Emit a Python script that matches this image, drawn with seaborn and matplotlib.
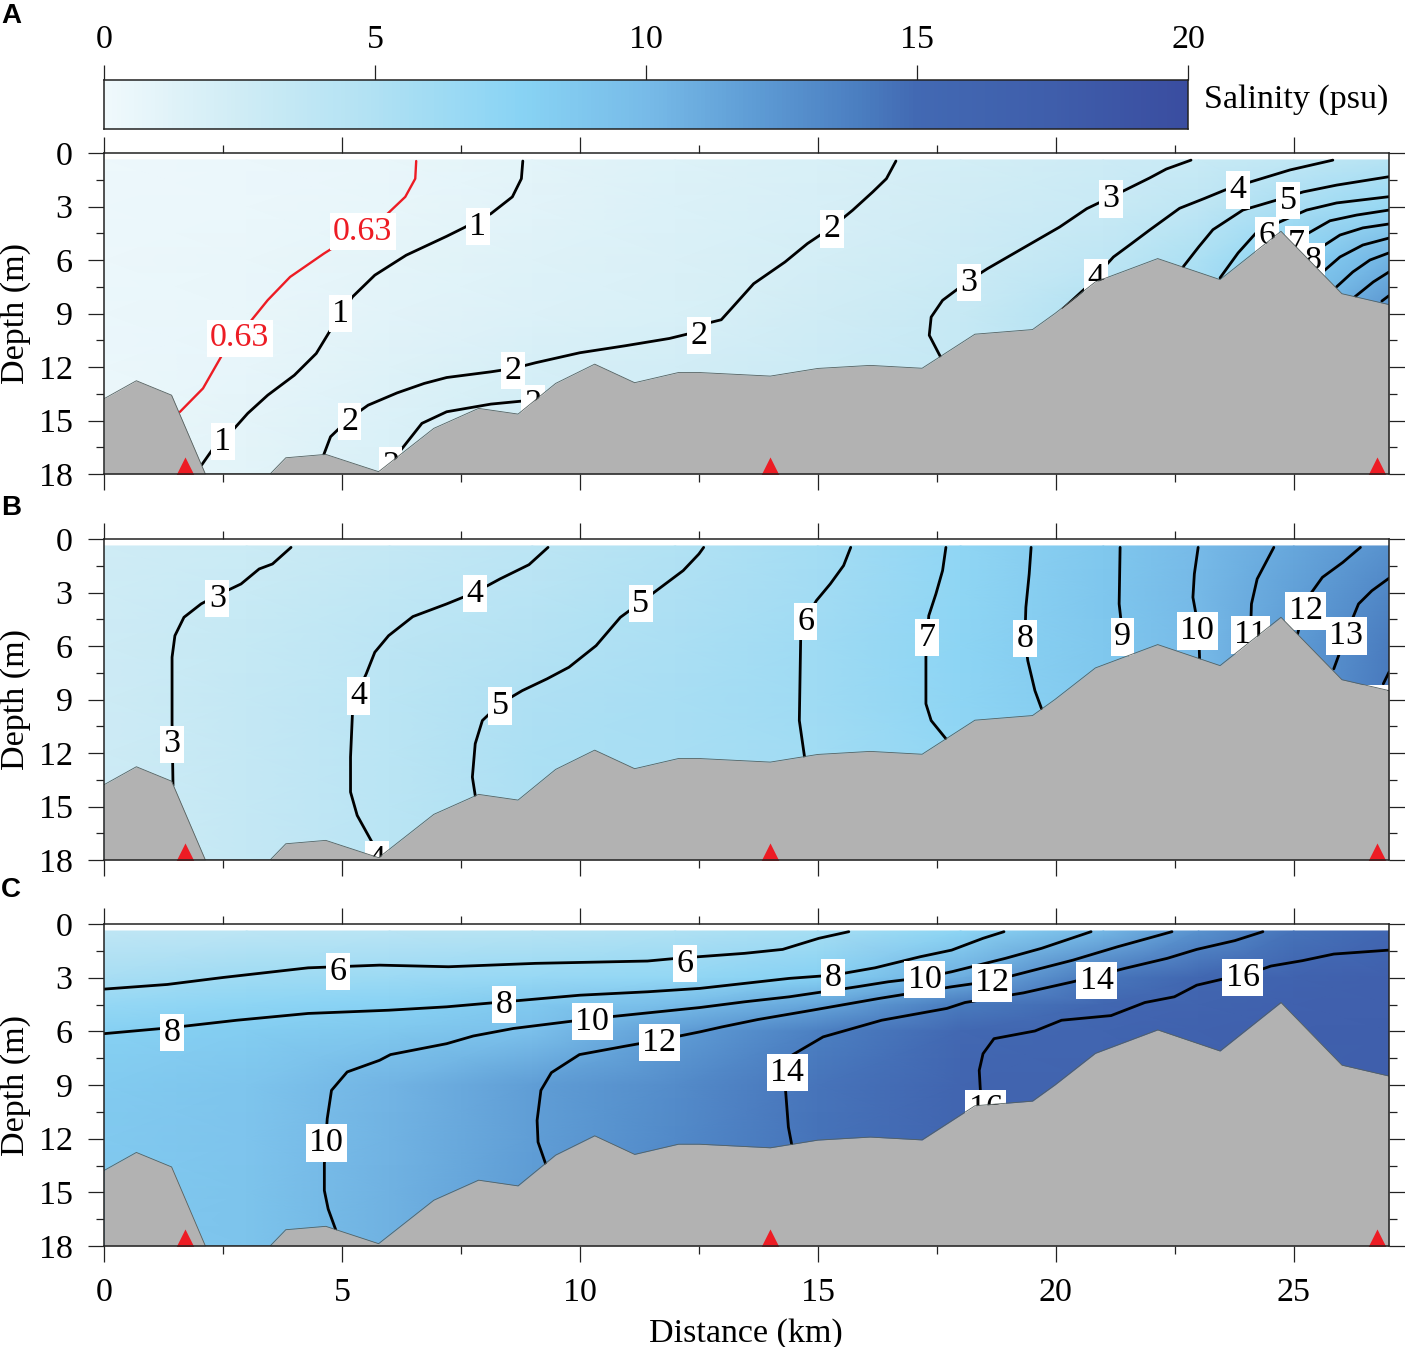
import numpy as np
import pandas as pd
import matplotlib
matplotlib.use('Agg')
import matplotlib.pyplot as plt
from matplotlib.colors import LinearSegmentedColormap
from matplotlib.ticker import MultipleLocator
import seaborn as sns

sns.set_theme(style='ticks', rc={'axes.edgecolor': '#222222', 'text.color': 'black',
                                 'xtick.color': '#222222', 'ytick.color': '#222222',
                                 'xtick.labelcolor': 'black', 'ytick.labelcolor': 'black',
                                 'axes.labelcolor': 'black'})
plt.rcParams['font.family'] = ['Liberation Serif', 'DejaVu Serif']

# seabed profile and stations
bed_km = [0, 0.68, 1.42, 2.13, 3.49, 3.82, 4.66, 5.77, 6.93, 7.87, 8.70, 9.49, 10.31, 11.15, 12.07, 12.51,
          14.0, 15.0, 16.1, 17.19, 18.3, 19.51, 19.98, 20.83, 22.14, 23.45, 24.73, 26.01, 27.0]
bed_d = [13.78, 12.77, 13.58, 18, 18, 17.09, 16.9, 17.87, 15.44, 14.32, 14.64, 12.92, 11.84, 12.88, 12.31, 12.31,
         12.51, 12.08, 11.91, 12.07, 10.16, 9.9, 9.0, 7.23, 5.92, 7.1, 4.39, 7.89, 8.5]
station_km = [1.7, 14.0, 26.75]

# salinity read on a coarse grid
field_km = [0, 3, 6, 9, 12, 15, 18, 21, 23, 25, 27]
field_d = [0.39, 3, 6, 9, 12, 15, 18]
field_d_c = [0.39, 3, 4.5, 6, 9, 12, 15, 18]
field_a = [[.30, .42, .60, 1.03, 1.45, 1.80, 2.20, 2.70, 3.05, 3.70, 4.60],
           [.35, .45, .64, 1.10, 1.60, 1.90, 2.45, 3.00, 3.75, 5.50, 6.70],
           [.38, .55, .97, 1.35, 1.70, 2.15, 2.75, 3.80, 5.30, 7.60, 10.5],
           [.40, .62, 1.15, 1.50, 1.85, 2.45, 3.20, 5.00, 6.00, 9.00, 12.5],
           [.45, .75, 1.35, 2.00, 2.30, 2.80, 3.40, 5.00, 7.00, 10.0, 13.0],
           [.50, .95, 1.60, 2.40, 2.50, 2.80, 3.40, 5.00, 7.00, 10.0, 13.0],
           [.50, 1.05, 1.80, 2.40, 2.50, 2.80, 3.40, 5.00, 7.00, 10.0, 13.0]]
field_b = [[2.5, 2.85, 3.4, 4.0, 4.85, 5.8, 7.15, 8.8, 10.0, 11.3, 12.6],
           [2.6, 3.1, 3.7, 4.3, 5.15, 5.9, 7.25, 8.85, 10.1, 11.7, 13.4],
           [2.7, 3.35, 4.05, 4.75, 5.35, 6.15, 7.35, 8.8, 10.0, 12.0, 14.0],
           [2.7, 3.4, 4.2, 5.15, 5.55, 6.1, 7.3, 8.7, 10.0, 12.0, 14.2],
           [2.7, 3.4, 4.2, 5.25, 5.6, 6.05, 7.1, 8.5, 10.0, 12.0, 14.2],
           [2.7, 3.4, 4.15, 5.2, 5.6, 6.0, 7.0, 8.5, 10.0, 12.0, 14.2],
           [2.7, 3.4, 4.15, 5.2, 5.6, 6.0, 7.0, 8.5, 10.0, 12.0, 14.2]]
field_c = [[3.8, 4.0, 4.3, 4.6, 5.0, 5.7, 7.4, 10.3, 12.6, 14.5, 15.4],
           [5.6, 6.15, 6.4, 6.7, 7.0, 7.9, 10.8, 14.3, 15.5, 16.4, 16.9],
           [6.8, 7.35, 7.75, 8.6, 9.8, 11.4, 14.1, 15.5, 16.2, 16.7, 17.0],
           [7.9, 8.3, 8.8, 9.5, 11.9, 13.8, 15.2, 16.0, 16.5, 16.9, 17.2],
           [8.5, 9.0, 10.4, 11.8, 13.0, 14.4, 15.8, 16.2, 16.6, 17.0, 17.2],
           [8.6, 9.1, 10.5, 11.8, 13.2, 14.5, 16.0, 16.2, 16.6, 17.0, 17.2],
           [8.6, 9.2, 10.6, 12.0, 13.2, 14.6, 16.0, 16.2, 16.6, 17.0, 17.2],
           [8.6, 9.2, 10.6, 12.0, 13.2, 14.6, 16.0, 16.2, 16.6, 17.0, 17.2]]

# contour lines, (km, depth)
a_063 = [(6.56, .45), (6.54, 1.44), (6.33, 2.46), (5.96, 3.4), (5.3, 4.5), (4.62, 5.64), (3.91, 6.95), (3.44, 8.25),
         (3.07, 9.47), (2.5, 11.24), (2.08, 13.2), (1.59, 14.53)]
a_1 = [(8.8, .45), (8.77, 1.44), (8.58, 2.46), (8.13, 3.4), (7.57, 4.18), (7.2, 4.67), (6.35, 5.73), (5.69, 6.85),
       (5.22, 8.07), (4.8, 9.75), (4.46, 11.24), (4.0, 12.46), (3.44, 13.58), (3.02, 14.6), (2.74, 15.44),
       (2.32, 16.47), (2.05, 17.5)]
a_2 = [(4.62, 16.9), (4.76, 15.91), (5.16, 14.88), (5.55, 14.14), (6.16, 13.45), (6.73, 12.92), (7.2, 12.59),
       (8.13, 12.27), (8.6, 12.08), (9.07, 11.76), (10.0, 11.2), (10.95, 10.81), (11.88, 10.4), (12.31, 10.12),
       (12.7, 9.53), (12.97, 9.35), (13.18, 8.73), (13.65, 7.33), (14.31, 6.11), (14.78, 5.08), (15.3, 4.15),
       (15.73, 3.21), (16.15, 2.19), (16.44, 1.44), (16.64, .45)]
a_2b = [(6.21, 16.75), (6.68, 15.16), (7.2, 14.51), (8.13, 14.08), (8.79, 13.91)]
a_3 = [(17.57, 11.4), (17.34, 10.22), (17.38, 9.2), (17.62, 8.26), (18.18, 7.14), (18.56, 6.49), (20.08, 4.15),
       (20.65, 3.12), (21.16, 2.47), (21.97, 1.4), (22.32, .9), (22.84, .4)]
a_4 = [(20.15, 8.73), (20.65, 7.51), (20.83, 6.95), (21.21, 5.83), (21.59, 5.08), (21.97, 4.32), (22.6, 3.1),
       (23.13, 2.54), (23.55, 2.08), (24.08, 1.63), (24.92, .95), (25.82, .4)]
a_5 = [(22.67, 6.4), (23.0, 5.27), (23.3, 4.3), (23.93, 3.2), (24.64, 2.64), (25.2, 2.18), (25.9, 1.8), (27, 1.33)]
a_6 = [(23.45, 7.0), (23.83, 5.6), (24.2, 4.5), (24.7, 3.87), (25.27, 3.2), (25.9, 2.8), (27, 2.45)]
a_7 = [(25.06, 5.0), (25.3, 4.5), (25.76, 3.8), (26.32, 3.48), (27, 3.2)]
a_8 = [(25.4, 5.83), (25.55, 5.33), (25.97, 4.6), (26.45, 4.2), (27, 3.98)]
a_9 = [(25.58, 6.73), (25.97, 5.83), (26.45, 5.16), (27, 4.77)]
a_10 = [(25.9, 7.5), (26.24, 6.67), (26.6, 6.0), (27, 5.6)]
a_11 = [(26.28, 8.07), (26.67, 7.23), (27, 6.67)]
a_12 = [(26.85, 8.3), (27, 8.0)]
a_063_lines = [a_063]
a_black_lines = [a_1, a_2, a_2b, a_3, a_4, a_5, a_6, a_7, a_8, a_9, a_10, a_11, a_12]

b_3 = [(1.45, 13.82), (1.43, 10.36), (1.43, 6.63), (1.49, 5.42), (1.68, 4.39), (2.04, 3.64), (2.41, 3.12),
       (2.88, 2.52), (3.26, 1.68), (3.54, 1.4), (3.93, .47)]
b_4 = [(5.65, 17.09), (5.32, 15.5), (5.18, 14.19), (5.18, 12.23), (5.22, 9.8), (5.32, 8.68), (5.51, 7.56),
       (5.69, 6.35), (5.98, 5.42), (6.49, 4.35), (7.2, 3.64), (7.8, 2.99), (8.32, 2.24), (8.93, 1.44), (9.33, .47)]
b_5 = [(7.8, 14.38), (7.74, 13.35), (7.8, 11.48), (7.95, 10.18), (8.32, 9.24), (8.79, 8.5), (9.31, 7.84),
       (9.77, 7.19), (10.34, 5.98), (10.85, 4.39), (11.28, 3.55), (11.7, 2.71), (12.17, 1.77), (12.5, .84), (12.6, .47)]
b_6 = [(14.72, 12.23), (14.61, 10.18), (14.64, 5.32), (14.74, 4.48), (14.97, 3.45), (15.26, 2.52), (15.54, 1.49),
       (15.69, .47)]
b_7 = [(17.69, 11.2), (17.38, 10.18), (17.27, 9.24), (17.27, 6.63), (17.33, 4.3), (17.48, 3.08), (17.62, 1.77),
       (17.69, .47)]
b_8 = [(19.7, 9.52), (19.56, 8.5), (19.41, 6.82), (19.35, 5.51), (19.37, 3.83), (19.44, 1.96), (19.48, .47)]
b_9 = [(21.54, 6.54), (21.4, 5.32), (21.33, 3.64), (21.35, .47)]
b_10 = [(23.02, 6.72), (23.0, 5.04), (22.88, 3.27), (22.91, 1.96), (22.99, .47)]
b_11 = [(24.09, 5.23), (24.11, 3.64), (24.23, 2.24), (24.58, .47)]
b_12 = [(25.08, 5.32), (25.13, 4.76), (25.35, 3.08), (25.6, 2.15), (26.03, 1.31), (26.4, .47)]
b_13 = [(25.84, 7.28), (25.98, 6.26), (26.1, 5.32), (26.36, 3.64), (26.64, 2.9), (27, 2.2)]
b_14 = [(26.88, 8.12), (27, 7.47)]
b_black_lines = [b_3, b_4, b_5, b_6, b_7, b_8, b_9, b_10, b_11, b_12, b_13, b_14]

c_6 = [(0, 3.64), (1.33, 3.38), (2.5, 2.99), (4.29, 2.45), (5.79, 2.3), (7.24, 2.39), (9.07, 2.2), (11.42, 2.07),
       (12.03, 1.92), (13.46, 1.64), (14.26, 1.42), (15.02, .8), (15.65, .43)]
c_8 = [(0, 6.13), (1.43, 5.79), (2.79, 5.38), (4.29, 5.0), (5.98, 4.82), (7.2, 4.63), (8.41, 4.35), (10.0, 3.98),
       (11.42, 3.79), (12.52, 3.6), (13.46, 3.32), (14.4, 3.04), (15.32, 2.86), (16.2, 2.45), (17.15, 1.83),
       (17.81, 1.46), (18.47, .8), (18.91, .43)]
c_10 = [(4.87, 17.1), (4.71, 15.93), (4.63, 14.9), (4.63, 13.41), (4.69, 10.89), (4.78, 9.3), (5.11, 8.27),
        (5.79, 7.62), (6.02, 7.3), (7.2, 6.69), (7.76, 6.26), (8.6, 5.84), (10.29, 5.28), (11.42, 4.97), (12.52, 4.67),
        (13.46, 4.35), (14.4, 4.07), (15.82, 3.51), (16.48, 3.23), (17.24, 2.99), (17.81, 2.67), (18.94, 1.92),
        (19.7, 1.36), (20.74, .43)]
c_12 = [(9.28, 13.41), (9.12, 12.19), (9.1, 10.98), (9.18, 9.3), (9.4, 8.31), (9.99, 7.3), (10.95, 6.83),
        (11.65, 6.5), (12.52, 6.03), (12.99, 5.75), (13.74, 5.34), (14.88, 4.82), (16.29, 4.16), (17.81, 3.51),
        (18.66, 3.19), (19.13, 2.86), (20.36, 2.02), (21.3, 1.27), (22.44, .43)]
c_14 = [(14.45, 12.33), (14.38, 11.35), (14.31, 8.93), (14.45, 7.34), (15.11, 6.31), (16.34, 5.38), (17.71, 4.72),
        (18.09, 4.39), (19.32, 3.85), (20.36, 3.23), (21.45, 2.48), (22.34, 1.92), (22.96, 1.42), (23.76, .93),
        (24.35, .43)]
c_16 = [(18.42, 9.58), (18.39, 8.18), (18.47, 7.25), (18.7, 6.41), (19.56, 5.98), (20.12, 5.38), (21.16, 5.12),
        (21.87, 4.39), (22.49, 4.07), (22.96, 3.42), (23.57, 3.04), (23.95, 2.88), (24.52, 2.35), (25.18, 2.05),
        (25.84, 1.68), (27, 1.46)]
c_black_lines = [c_6, c_8, c_10, c_12, c_14, c_16]

# contour labels (text, km, depth)
a_labels = [('1', 7.85, 4.0), ('1', 4.97, 8.9), ('1', 2.5, 16.06), ('2', 8.6, 12.08), ('2', 12.5, 10.12),
            ('2', 15.3, 4.15), ('2', 5.16, 14.94), ('2', 9.02, 13.95), ('2', 6.02, 17.4), ('3', 18.18, 7.14),
            ('3', 21.16, 2.47), ('4', 20.85, 6.9), ('4', 23.83, 1.96), ('5', 24.88, 2.56), ('6', 24.43, 4.5),
            ('7', 25.06, 5.0), ('8', 25.4, 5.95)]
a_red_labels = [('0.63', 5.44, 4.3), ('0.63', 2.85, 10.27)]
b_labels = [('3', 2.38, 3.21), ('3', 1.43, 11.39), ('4', 7.79, 2.95), ('4', 5.35, 8.68), ('4', 5.74, 17.85),
            ('5', 11.28, 3.51), ('5', 8.32, 9.24), ('6', 14.74, 4.5), ('7', 17.29, 5.42), ('8', 19.35, 5.47),
            ('9', 21.4, 5.38), ('10', 22.97, 5.04), ('11', 24.09, 5.27), ('12', 25.25, 3.92), ('13', 26.1, 5.32),
            ('14', 26.73, 9.1)]
c_labels = [('6', 4.92, 2.54), ('6', 12.21, 2.11), ('8', 1.43, 5.94), ('8', 8.41, 4.39), ('8', 15.32, 2.89),
            ('10', 4.67, 12.12), ('10', 10.26, 5.34), ('10', 17.24, 3.0), ('12', 11.67, 6.5), ('12', 18.66, 3.19),
            ('14', 14.36, 8.18), ('14', 20.86, 3.04), ('16', 23.93, 2.88), ('16', 18.53, 10.23)]

# colour scale
cmap_vals = [0, 2.5, 5, 7.7, 10, 12, 14, 15, 17.5, 20]
cmap_cols = ['#F0F9FC', '#CFECF5', '#B0E1F3', '#88D3F4', '#77BBE8', '#5E9CD5', '#4A7DC0', '#4269B3', '#3F5EAB', '#3A4DA0']
cmap = LinearSegmentedColormap.from_list('salinity', [(v / 20, c) for v, c in zip(cmap_vals, cmap_cols)], N=256)
cbar_ticks = [0, 5, 10, 15, 20]

W, H = 1405, 1347
TICK_FS = 24.5
LABEL_FS = 24.5
BED_COLOR = '#b2b2b2'


def px_axes(fig, left, top, right, bottom):
    return fig.add_axes([left / W, 1 - bottom / H, (right - left) / W, (bottom - top) / H])


def draw_line(ax, pts, color='black', lw=2.0):
    df = pd.DataFrame(pts, columns=['km', 'depth'])
    sns.lineplot(data=df, x='km', y='depth', sort=False, estimator=None, color=color, lw=lw, ax=ax, zorder=3)


def put_label(ax, txt, km, d, color):
    ax.annotate(txt, (km, d), xytext=(0, -1.5), textcoords='offset points', ha='center', va='center',
                fontsize=LABEL_FS, color=color, zorder=4, annotation_clip=True, clip_on=True,
                bbox=dict(boxstyle='square,pad=0.1', fc='white', ec='none'))


def draw_panel(ax, field, depths, black_lines, labels, letter, letter_y, red_lines=(), red_labels=(), show_x=False):
    ax.pcolormesh(field_km, depths, np.array(field), shading='gouraud', cmap=cmap, vmin=0, vmax=20, zorder=1)
    for pts in black_lines:
        draw_line(ax, pts)
    for pts in red_lines:
        draw_line(ax, pts, color='#ED1C24', lw=1.7)

    for txt, km, d in labels:
        put_label(ax, txt, km, d, 'black')
    for txt, km, d in red_labels:
        put_label(ax, txt, km, d, '#ED1C24')

    # seabed sits on top of the labels
    ax.fill_between(bed_km, bed_d, 18, color=BED_COLOR, lw=0, zorder=5)
    bed = pd.DataFrame({'km': bed_km, 'depth': bed_d})
    sns.lineplot(data=bed, x='km', y='depth', sort=False, estimator=None, color='#55605f', lw=0.6, ax=ax, zorder=6)
    stations = pd.DataFrame({'km': station_km, 'depth': [17.55] * len(station_km)})
    sns.scatterplot(data=stations, x='km', y='depth', marker='^', s=170, color='#ED1C24', linewidth=0, ax=ax, zorder=7)

    ax.set_xlim(0, 27)
    ax.set_ylim(18, 0)
    ax.xaxis.set_major_locator(MultipleLocator(5))
    ax.xaxis.set_minor_locator(MultipleLocator(2.5))
    ax.yaxis.set_major_locator(MultipleLocator(3))
    ax.yaxis.set_minor_locator(MultipleLocator(1.5))
    ax.tick_params(which='major', length=11.5, width=0.9, direction='out', top=True, right=True, bottom=True, left=True,
                   labelsize=TICK_FS, pad=11, labelbottom=show_x)
    ax.tick_params(which='minor', length=6, width=0.9, direction='out', top=True, right=True, bottom=True, left=True)
    for side in ax.spines.values():
        side.set_visible(True)
        side.set_linewidth(1.1)
        side.set_zorder(8)
    ax.set_ylabel('Depth (m)', fontsize=LABEL_FS)
    ax.yaxis.set_label_coords(-0.0565, 0.5)
    ax.set_xlabel('Distance (km)' if show_x else '', fontsize=LABEL_FS)
    if show_x:
        ax.xaxis.set_label_coords(0.4996, -0.224)
    fig.text(1 / W, 1 - letter_y / H, letter, family='Liberation Sans', fontweight='bold', fontsize=20,
             ha='left', va='center')


fig = plt.figure(figsize=(W / 100, H / 100), dpi=100)

cax = px_axes(fig, 104, 80, 1188, 129)
cbar_vals = np.linspace(0, 20, 256).reshape(1, -1)
sns.heatmap(cbar_vals, ax=cax, cmap=cmap, vmin=0, vmax=20, cbar=False, xticklabels=False, yticklabels=False,
            rasterized=True)
cax.set_xticks([t / 20 * 256 for t in cbar_ticks])
cax.set_xticklabels([str(t) for t in cbar_ticks], fontsize=TICK_FS)
cax.set_yticks([])
cax.xaxis.tick_top()
cax.tick_params(axis='x', length=11, width=0.9, pad=7, top=True, bottom=False, rotation=0)
for side in cax.spines.values():
    side.set_visible(True)
    side.set_linewidth(1.1)
fig.text(1204 / W, 1 - 100 / H, 'Salinity (psu)', fontsize=LABEL_FS, ha='left', va='center')

ax_a = px_axes(fig, 104, 153, 1389, 474)
ax_b = px_axes(fig, 104, 539, 1389, 860)
ax_c = px_axes(fig, 104, 924, 1389, 1246)
draw_panel(ax_a, field_a, field_d, a_black_lines, a_labels, 'A', 16, red_lines=a_063_lines, red_labels=a_red_labels)
draw_panel(ax_b, field_b, field_d, b_black_lines, b_labels, 'B', 508)
draw_panel(ax_c, field_c, field_d_c, c_black_lines, c_labels, 'C', 890, show_x=True)

fig.savefig('out.png', dpi=100)
